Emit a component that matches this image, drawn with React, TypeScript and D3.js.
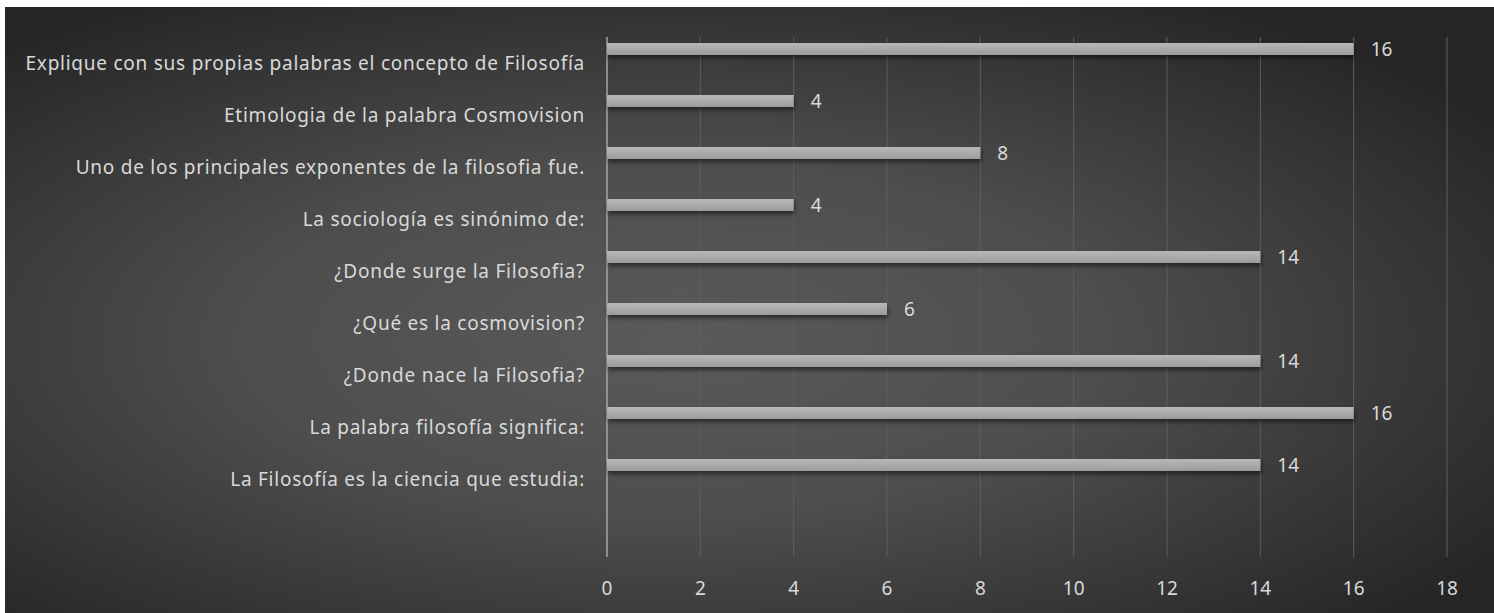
import React from 'react'
import { scaleBand, scaleLinear } from 'd3'

const categories = [
  'Explique con sus propias palabras el concepto de Filosofía',
  'Etimologia de la palabra Cosmovision',
  'Uno de los principales exponentes de la filosofia fue.',
  'La sociología es sinónimo de:',
  '¿Donde surge la Filosofia?',
  '¿Qué es la cosmovision?',
  '¿Donde nace la Filosofia?',
  'La palabra filosofía significa:',
  'La Filosofía es la ciencia que estudia:',
  ' ',
]
const values = [16, 4, 8, 4, 14, 6, 14, 16, 14, null]
const xTicks = [0, 2, 4, 6, 8, 10, 12, 14, 16, 18]
const seriesNames = ['Serie1', 'Serie2', 'Serie3']

const W = 1494
const H = 613
const FONT = "'Noto Sans', 'Open Sans', sans-serif"
const TEXT = '#d9d9d9'
const FS = 19

const App = () => {
  const margin = { top: 37, right: 47, bottom: 56, left: 607 }

  const scaleX = scaleLinear()
    .domain([0, 18])
    .range([margin.left, W - margin.right])
  const scaleY = scaleBand()
    .domain(categories)
    .range([margin.top, H - margin.bottom])
  // bar sits in the first slot of a (mostly empty) multi-series band
  const inner = scaleBand()
    .domain(seriesNames)
    .range([0, scaleY.bandwidth()])
    .paddingOuter(0.667)
    .align(0.375)

  const y0 = margin.top
  const y1 = H - margin.bottom

  return (
    <svg width={W} height={H} style={{ position: 'absolute', left: 0, top: 0 }}>
      <defs>
        <radialGradient id="bg" cx="0.45" cy="0.55" r="0.66" gradientUnits="objectBoundingBox">
          <stop offset="0" stopColor="#5a5a5a" />
          <stop offset="0.45" stopColor="#4d4d4d" />
          <stop offset="1" stopColor="#262626" />
        </radialGradient>
        <linearGradient id="bar" x1="0" y1="0" x2="0" y2="1">
          <stop offset="0" stopColor="#b8b8b8" />
          <stop offset="1" stopColor="#9c9c9c" />
        </linearGradient>
        <filter id="shadow" x="-5%" y="-50%" width="110%" height="250%">
          <feDropShadow dx="1" dy="3" stdDeviation="2" floodColor="#000" floodOpacity="0.5" />
        </filter>
      </defs>
      <rect x={0} y={0} width={W} height={H} fill="#ffffff" />
      <rect x={5} y={7} width={W - 5} height={H - 7} fill="url(#bg)" />

      {xTicks.map((t) => (
        <line
          key={`grid-${t}`}
          x1={scaleX(t)}
          x2={scaleX(t)}
          y1={y0}
          y2={y1}
          stroke={t === 0 ? '#a6a6a6' : '#5e5e5e'}
          strokeWidth={t === 0 ? 1.5 : 1}
        />
      ))}

      {xTicks.map((t) => (
        <text
          key={`tick-${t}`}
          x={scaleX(t)}
          y={588}
          textAnchor="middle"
          dominantBaseline="central"
          fill={TEXT}
          fontFamily={FONT}
          fontSize={FS}
        >
          {t}
        </text>
      ))}

      {categories.map((c) => (
        <text
          key={`cat-${c}`}
          x={scaleX(0) - 22}
          y={scaleY(c) + scaleY.bandwidth() / 2}
          textAnchor="end"
          dominantBaseline="central"
          fill={TEXT}
          fontFamily={FONT}
          fontSize={FS}
          letterSpacing={0.75}
        >
          {c}
        </text>
      ))}

      {categories.map((c, i) => {
        const v = values[i]
        if (v == null) return null
        const by = scaleY(c) + inner(seriesNames[0])
        return (
          <g key={`bar-${c}`}>
            <rect
              x={scaleX(0)}
              y={by}
              width={scaleX(v) - scaleX(0)}
              height={inner.bandwidth()}
              fill="url(#bar)"
              filter="url(#shadow)"
            />
            <text
              x={scaleX(v) + 17}
              y={by + inner.bandwidth() / 2}
              dominantBaseline="central"
              fill={TEXT}
              fontFamily={FONT}
              fontSize={FS}
            >
              {v}
            </text>
          </g>
        )
      })}
    </svg>
  )
}

export default App
